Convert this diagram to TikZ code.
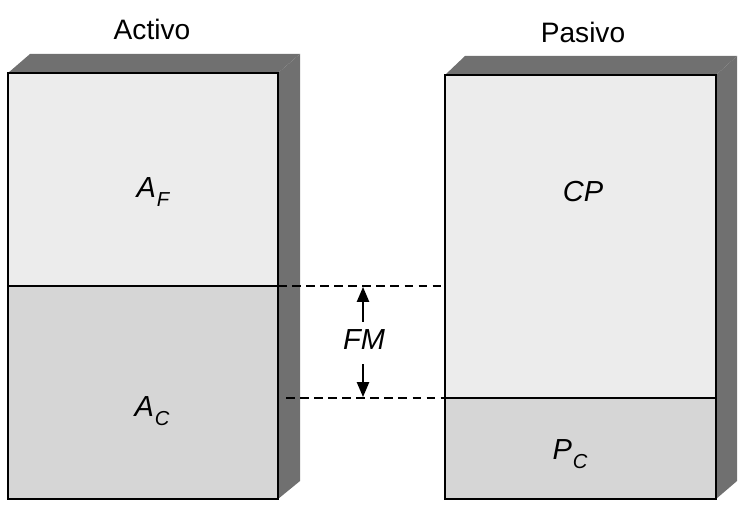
\documentclass[tikz,border=0pt]{standalone}
\usepackage{fontspec}
\setmainfont{Liberation Sans}
\usetikzlibrary{arrows.meta}
\definecolor{facelight}{HTML}{ECECEC}
\definecolor{facegray}{HTML}{D6D6D6}
\definecolor{facedark}{HTML}{707070}
\newcommand\lowsub[1]{\kern0.5pt\raisebox{-0.32em}{\fontsize{11.5}{12}\selectfont #1}}
\tikzset{
  px/.style={x=0.02cm,y=-0.02cm},
  outline/.style={draw=black,line width=1.2pt,line join=miter},
  darkface/.style={fill=facedark,draw=none},
  lbl/.style={font=\fontsize{16.5}{19}\selectfont\itshape,inner sep=0pt},
  title/.style={font=\fontsize{16}{19}\selectfont,inner sep=0pt},
  guide/.style={draw=black,line width=0.6pt,dash pattern=on 5pt off 3pt},
  fmarrow/.style={draw=black,line width=0.85pt,-{Triangle[length=8.5pt,width=7pt]}}
}
\begin{document}
\begin{tikzpicture}[px]
\useasboundingbox (0,0) rectangle (746,516);
% ---- left box (Activo)
\fill[darkface] (8,73) -- (30,54) -- (300,54) -- (278,73) -- cycle;
\fill[darkface] (278,73) -- (300,54) -- (300,481) -- (278,499) -- cycle;
\fill[facelight] (8,73) rectangle (278,286);
\fill[facegray] (8,286) rectangle (278,499);
\draw[outline] (8,73) rectangle (278,499);
\draw[outline] (8,286) -- (278,286);
% ---- right box (Pasivo)
\fill[darkface] (445,75) -- (465,56) -- (737,56) -- (716,75) -- cycle;
\fill[darkface] (716,75) -- (737,56) -- (737,481) -- (716,499) -- cycle;
\fill[facelight] (445,75) rectangle (716,398);
\fill[facegray] (445,398) rectangle (716,499);
\draw[outline] (445,75) rectangle (716,499);
\draw[outline] (445,398) -- (716,398);
% ---- titles
\node[title] (activo) at (152,29) {Activo};
\node[title] (pasivo) at (583,32) {Pasivo};
% ---- labels
\node[lbl] (af) at (153,192) {A\lowsub{F}};
\node[lbl] (ac) at (152,411) {A\lowsub{C}};
\node[lbl] (cp) at (583,192) {CP};
\node[lbl] (pc) at (570,454) {P\lowsub{C}};
\node[lbl] (fm) at (364,340) {FM};
% ---- guides
\coordinate (g1a) at (278,286);
\coordinate (g1b) at (445,286);
\coordinate (g2a) at (286,398);
\coordinate (g2b) at (445,398);
\draw[guide] (g1a) -- (g1b);
\draw[guide] (g2a) -- (g2b);
% ---- arrows
\coordinate (up1) at (363,322);
\coordinate (up2) at (363,287);
\coordinate (dn1) at (363,364);
\coordinate (dn2) at (363,397);
\draw[fmarrow] (up1) -- (up2);
\draw[fmarrow] (dn1) -- (dn2);
\end{tikzpicture}
\end{document}
